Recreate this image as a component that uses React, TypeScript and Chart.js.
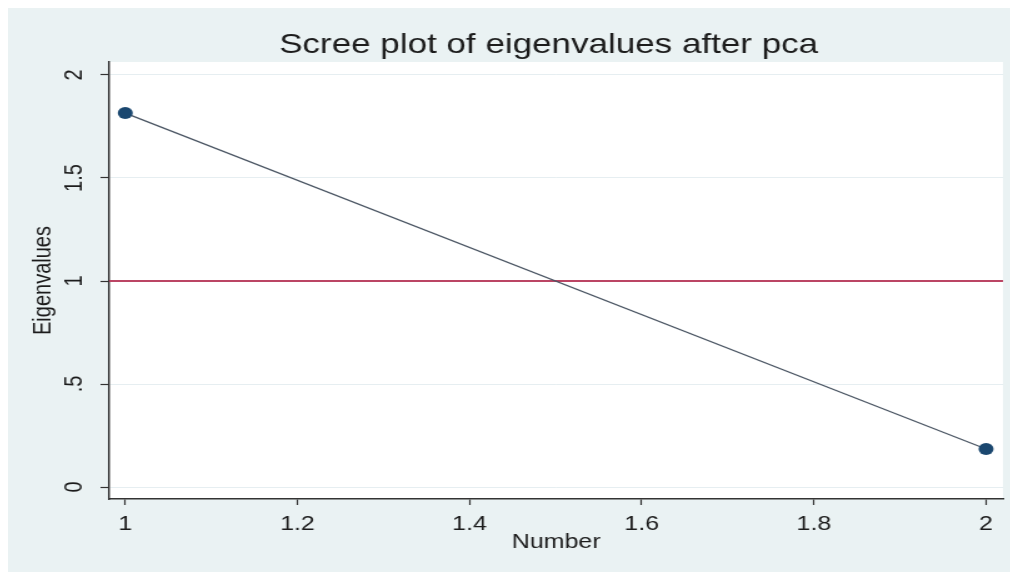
import React, { useEffect, useRef } from "react";
import { Chart, registerables } from "chart.js";

Chart.register(...registerables);

const titleText = "Scree plot of eigenvalues after pca";
const xTitle = "Number";
const yTitle = "Eigenvalues";
const componentNumbers = [1, 2];
const eigenvalues = [1.815, 0.185];
const xTicks = [1, 1.2, 1.4, 1.6, 1.8, 2];
const xTickLabels = ["1", "1.2", "1.4", "1.6", "1.8", "2"];
const yTicks = [0, 0.5, 1, 1.5, 2];
const yTickLabels = ["0", ".5", "1", "1.5", "2"];
const referenceLine = 1;

const STRETCH = 1.25;
const CW = 808;
const CH = 564;
const FONT = "'Liberation Sans', Arial, sans-serif";

export default function App() {
  const ref = useRef<HTMLCanvasElement | null>(null);

  useEffect(() => {
    if (!ref.current) return;
    const bgPlugin = {
      id: "bg",
      beforeDraw(chart: any) {
        const { ctx, chartArea } = chart;
        ctx.save();
        ctx.fillStyle = "#eaf2f3";
        ctx.fillRect(0, 0, chart.width, chart.height);
        ctx.fillStyle = "#ffffff";
        ctx.fillRect(chartArea.left, chartArea.top, chartArea.right - chartArea.left, chartArea.bottom - chartArea.top);
        ctx.restore();
      },
      beforeDatasetsDraw(chart: any) {
        const { ctx, chartArea, scales } = chart;
        const y = scales.y.getPixelForValue(referenceLine);
        ctx.save();
        ctx.strokeStyle = "#bb4564";
        ctx.lineWidth = 1.8;
        ctx.beginPath();
        ctx.moveTo(chartArea.left, y);
        ctx.lineTo(chartArea.right, y);
        ctx.stroke();
        ctx.restore();
      },
      afterDraw(chart: any) {
        const { ctx, chartArea } = chart;
        ctx.save();
        ctx.fillStyle = "#1c1c1c";
        ctx.font = `28px ${FONT}`;
        ctx.textAlign = "center";
        ctx.textBaseline = "alphabetic";
        ctx.fillText(titleText, (chartArea.left + chartArea.right) / 2 - 6, 45);
        ctx.restore();
      },
    };

    const chart = new Chart(ref.current, {
      type: "scatter",
      data: {
        datasets: [
          {
            data: componentNumbers.map((n, i) => ({ x: n, y: eigenvalues[i] })),
            showLine: true,
            borderColor: "#4a5563",
            borderWidth: 1.2,
            pointRadius: 6,
            pointBackgroundColor: "#1a476f",
            pointBorderColor: "#1a476f",
            pointBorderWidth: 0,
          },
        ],
      },
      options: {
        animation: false,
        responsive: false,
        devicePixelRatio: 1,
        layout: { padding: { left: 0, right: 12, top: 54, bottom: 0 } },
        plugins: { legend: { display: false }, tooltip: { enabled: false }, title: { display: false } },
        scales: {
          x: {
            type: "linear",
            min: 0.9814,
            max: 2.0197,
            afterBuildTicks: (s: any) => {
              s.ticks = xTicks.map((v) => ({ value: v }));
            },
            afterFit: (s: any) => {
              s.height = 73;
            },
            ticks: {
              callback: (_v: any, i: number) => xTickLabels[i],
              font: { family: FONT, size: 20 },
              color: "#1c1c1c",
              padding: 7,
              maxRotation: 0,
              minRotation: 0,
              autoSkip: false,
            },
            grid: {
              drawOnChartArea: false,
              drawTicks: true,
              tickLength: 6,
              tickColor: "#333333",
              tickWidth: 1.2,
            },
            border: { display: true, color: "#333333", width: 1.5 },
            title: {
              display: true,
              text: xTitle,
              font: { family: FONT, size: 20 },
              color: "#1c1c1c",
              padding: { top: 0, bottom: 18 },
            },
          },
          y: {
            type: "linear",
            min: -0.058,
            max: 2.063,
            afterBuildTicks: (s: any) => {
              s.ticks = yTicks.map((v) => ({ value: v }));
            },
            afterFit: (s: any) => {
              s.width = 81;
            },
            ticks: {
              callback: (_v: any, i: number) => yTickLabels[i],
              font: { family: FONT, size: 20 },
              color: "#1c1c1c",
              minRotation: 90,
              maxRotation: 90,
              crossAlign: "center",
              padding: 6.5,
              autoSkip: false,
            },
            grid: {
              color: "#e6eef1",
              lineWidth: 1,
              drawTicks: true,
              tickLength: 7,
              tickColor: "#333333",
              tickWidth: 1.2,
            },
            border: { display: true, color: "#333333", width: 1.5 },
            title: {
              display: true,
              text: yTitle,
              font: { family: FONT, size: 20 },
              color: "#1c1c1c",
              padding: { top: 16, bottom: 0 },
            },
          },
        },
      },
      plugins: [bgPlugin],
    });
    return () => chart.destroy();
  }, []);

  return (
    <div style={{ width: CW * STRETCH, height: CH, overflow: "hidden", background: "#eaf2f3" }}>
      <canvas
        ref={ref}
        width={CW}
        height={CH}
        style={{ display: "block", width: CW, height: CH, transform: `scaleX(${STRETCH})`, transformOrigin: "0 0" }}
      />
    </div>
  );
}
